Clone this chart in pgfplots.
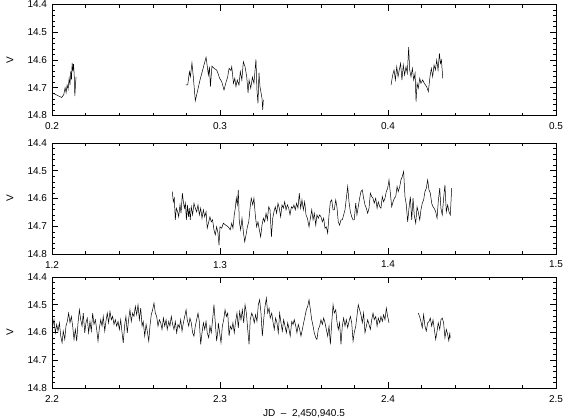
\documentclass[border=0pt]{standalone}
\usepackage{pgfplots}
\pgfplotsset{compat=1.18}
\usepackage{fontspec}
\setmainfont{Liberation Sans}

\pgfplotsset{
  lc/.style={
    scale only axis, width=504pt, height=111pt,
    anchor=north west,
    y dir=reverse, ymin=14.4, ymax=14.8,
    ytick={14.4,14.5,14.6,14.7,14.8}, minor y tick num=4,
    minor x tick num=4,
    major tick length=6pt, minor tick length=3pt,
    axis line style={line width=0.8pt},
    every tick/.style={black, line width=0.6pt},
    tick label style={font=\fontsize{10}{12}\selectfont},
    /pgf/number format/assume math mode=true,
    /pgf/number format/.cd, fixed, fixed zerofill, precision=1, /pgfplots/.cd,
    xticklabel style={yshift=-3.5pt},
    yticklabel style={xshift=-1.5pt},
    ylabel={V},
    every axis y label/.style={at={(axis description cs:0,0.5)}, xshift=-42pt, rotate=90, anchor=center, font=\fontsize{10}{12}\selectfont},
  },
  lcv/.style={black, line width=0.5pt, mark=none},
}

\begin{document}
\begin{tikzpicture}
\useasboundingbox (0,0) rectangle (565pt,-420pt);

% top panel
\begin{axis}[lc, at={(52pt,-4.5pt)}, xmin=0.2, xmax=0.5, xtick={0.2,0.3,0.4,0.5}]
\addplot[lcv] coordinates {
(0.2008,14.720) (0.2040,14.730) (0.2058,14.735) (0.2070,14.725) (0.2078,14.700)
(0.2084,14.718) (0.2090,14.690) (0.2096,14.705) (0.2102,14.665) (0.2107,14.690)
(0.2112,14.640) (0.2116,14.670) (0.2120,14.610) (0.2124,14.640) (0.2128,14.615)
(0.2132,14.650) (0.2136,14.730) (0.2140,14.685) (0.2143,14.662)
};
\addplot[lcv] coordinates {
(0.2796,14.690) (0.2808,14.690) (0.2818,14.642) (0.2824,14.660) (0.2833,14.610)
(0.2841,14.660) (0.2853,14.747) (0.2881,14.672) (0.2917,14.590) (0.2931,14.654)
(0.2937,14.624) (0.2943,14.696) (0.2952,14.622) (0.2964,14.630) (0.2980,14.636)
(0.2988,14.648) (0.2998,14.666) (0.3010,14.678) (0.3024,14.708) (0.3034,14.684)
(0.3046,14.660) (0.3054,14.630) (0.3065,14.638) (0.3070,14.624) (0.3080,14.684)
(0.3088,14.666) (0.3095,14.696) (0.3103,14.672) (0.3113,14.690) (0.3121,14.642)
(0.3130,14.672) (0.3139,14.606) (0.3149,14.624) (0.3159,14.660) (0.3167,14.718)
(0.3173,14.672) (0.3183,14.702) (0.3193,14.662) (0.3202,14.684) (0.3214,14.598)
(0.3220,14.708) (0.3226,14.756) (0.3232,14.646) (0.3238,14.696) (0.3250,14.738)
(0.3254,14.780) (0.3258,14.744)
};
\addplot[lcv] coordinates {
(0.4018,14.690) (0.4028,14.654) (0.4036,14.636) (0.4044,14.672) (0.4052,14.624)
(0.4060,14.660) (0.4067,14.636) (0.4075,14.612) (0.4083,14.672) (0.4091,14.618)
(0.4099,14.654) (0.4107,14.624) (0.4115,14.648) (0.4123,14.554) (0.4129,14.636)
(0.4137,14.660) (0.4145,14.630) (0.4153,14.672) (0.4161,14.648) (0.4167,14.750)
(0.4173,14.684) (0.4180,14.702) (0.4189,14.666) (0.4196,14.684) (0.4206,14.672)
(0.4216,14.684) (0.4230,14.696) (0.4240,14.714) (0.4250,14.660) (0.4258,14.630)
(0.4266,14.660) (0.4274,14.618) (0.4282,14.636) (0.4290,14.600) (0.4298,14.636)
(0.4306,14.576) (0.4312,14.612) (0.4318,14.600) (0.4326,14.666)
};
\end{axis}

% middle panel
\begin{axis}[lc, at={(52pt,-143pt)}, xmin=1.2, xmax=1.5, xtick={1.2,1.3,1.4,1.5}]
\addplot[lcv] coordinates {
(1.2716,14.575) (1.2722,14.612) (1.2728,14.599) (1.2734,14.677) (1.2740,14.635)
(1.2748,14.648) (1.2754,14.666) (1.2762,14.623) (1.2768,14.653) (1.2776,14.581)
(1.2782,14.612) (1.2788,14.635) (1.2794,14.617) (1.2800,14.677) (1.2806,14.623)
(1.2812,14.666) (1.2817,14.635) (1.2823,14.677) (1.2829,14.630) (1.2837,14.659)
(1.2845,14.617) (1.2853,14.635) (1.2861,14.648) (1.2869,14.623) (1.2877,14.659)
(1.2885,14.635) (1.2893,14.671) (1.2901,14.641) (1.2909,14.666) (1.2917,14.648)
(1.2924,14.707) (1.2933,14.684) (1.2940,14.666) (1.2948,14.684) (1.2956,14.677)
(1.2964,14.713) (1.2972,14.731) (1.2980,14.702) (1.2988,14.725) (1.2994,14.768)
(1.3000,14.702) (1.3010,14.707) (1.3020,14.689) (1.3034,14.696) (1.3049,14.702)
(1.3061,14.713) (1.3070,14.689) (1.3077,14.707) (1.3085,14.659) (1.3091,14.635)
(1.3097,14.599) (1.3103,14.623) (1.3109,14.569) (1.3115,14.684) (1.3123,14.713)
(1.3131,14.671) (1.3139,14.720) (1.3147,14.756) (1.3155,14.731) (1.3163,14.702)
(1.3171,14.684) (1.3179,14.635) (1.3186,14.599) (1.3195,14.623) (1.3202,14.599)
(1.3210,14.659) (1.3218,14.702) (1.3226,14.684) (1.3234,14.713) (1.3242,14.738)
(1.3250,14.696) (1.3258,14.671) (1.3266,14.684) (1.3274,14.653) (1.3282,14.677)
(1.3290,14.630) (1.3298,14.641) (1.3306,14.738) (1.3314,14.671) (1.3321,14.648)
(1.3329,14.630) (1.3337,14.653) (1.3345,14.617) (1.3353,14.635) (1.3361,14.666)
(1.3369,14.623) (1.3377,14.635) (1.3385,14.612) (1.3393,14.641) (1.3401,14.623)
(1.3409,14.635) (1.3417,14.659) (1.3425,14.630) (1.3433,14.635) (1.3440,14.623)
(1.3448,14.641) (1.3456,14.617) (1.3464,14.635) (1.3472,14.581) (1.3480,14.635)
(1.3488,14.605) (1.3496,14.641) (1.3504,14.612) (1.3512,14.659) (1.3520,14.671)
(1.3530,14.702) (1.3538,14.671) (1.3546,14.641) (1.3554,14.677) (1.3561,14.653)
(1.3570,14.696) (1.3577,14.659) (1.3585,14.671) (1.3593,14.659) (1.3601,14.666)
(1.3609,14.684) (1.3617,14.671) (1.3625,14.707) (1.3633,14.702) (1.3641,14.725)
(1.3649,14.659) (1.3657,14.612) (1.3665,14.605) (1.3673,14.641) (1.3680,14.641)
(1.3689,14.605) (1.3696,14.630) (1.3704,14.684) (1.3712,14.696) (1.3720,14.677)
(1.3728,14.677) (1.3736,14.659) (1.3744,14.641) (1.3752,14.599) (1.3760,14.557)
(1.3768,14.612) (1.3776,14.648) (1.3784,14.666) (1.3792,14.677) (1.3799,14.677)
(1.3808,14.617) (1.3815,14.659) (1.3823,14.630) (1.3831,14.599) (1.3839,14.575)
(1.3847,14.569) (1.3855,14.599) (1.3863,14.623) (1.3871,14.635) (1.3879,14.653)
(1.3887,14.635) (1.3895,14.581) (1.3903,14.593) (1.3911,14.599) (1.3918,14.617)
(1.3927,14.599) (1.3935,14.635) (1.3942,14.612) (1.3951,14.630) (1.3958,14.635)
(1.3966,14.593) (1.3974,14.612) (1.3982,14.599) (1.3990,14.575) (1.3998,14.563)
(1.4006,14.533) (1.4014,14.581) (1.4022,14.630) (1.4030,14.612) (1.4038,14.599)
(1.4046,14.593) (1.4054,14.557) (1.4061,14.575) (1.4070,14.557) (1.4077,14.533)
(1.4085,14.521) (1.4093,14.503) (1.4101,14.593) (1.4109,14.623) (1.4117,14.684)
(1.4125,14.635) (1.4133,14.593) (1.4141,14.677) (1.4149,14.599) (1.4156,14.659)
(1.4165,14.689) (1.4173,14.630) (1.4180,14.648) (1.4189,14.677) (1.4196,14.641)
(1.4204,14.617) (1.4212,14.605) (1.4220,14.575) (1.4228,14.563) (1.4236,14.533)
(1.4244,14.569) (1.4252,14.581) (1.4260,14.617) (1.4268,14.630) (1.4275,14.635)
(1.4284,14.648) (1.4292,14.671) (1.4299,14.612) (1.4308,14.563) (1.4315,14.635)
(1.4323,14.659) (1.4332,14.593) (1.4339,14.551) (1.4347,14.648) (1.4355,14.623)
(1.4363,14.648) (1.4371,14.659) (1.4379,14.563)
};
\end{axis}

% bottom panel
\begin{axis}[lc, at={(52pt,-277pt)}, xmin=2.2, xmax=2.5, xtick={2.2,2.3,2.4,2.5},
  xlabel={JD~~--~~2,450,940.5},
  xlabel style={font=\fontsize{10}{12}\selectfont, yshift=-1pt}]
\addplot[lcv] coordinates {
(2.2004,14.577) (2.2012,14.554) (2.2020,14.601) (2.2028,14.571) (2.2036,14.595)
(2.2044,14.565) (2.2052,14.613) (2.2060,14.637) (2.2067,14.595) (2.2076,14.625)
(2.2083,14.577) (2.2091,14.560) (2.2099,14.530) (2.2107,14.565) (2.2115,14.542)
(2.2123,14.577) (2.2131,14.625) (2.2139,14.589) (2.2147,14.631) (2.2155,14.565)
(2.2163,14.518) (2.2171,14.554) (2.2179,14.577) (2.2186,14.530) (2.2195,14.601)
(2.2202,14.565) (2.2210,14.548) (2.2218,14.601) (2.2226,14.560) (2.2234,14.595)
(2.2242,14.530) (2.2250,14.571) (2.2258,14.554) (2.2266,14.589) (2.2274,14.631)
(2.2282,14.583) (2.2290,14.554) (2.2298,14.577) (2.2305,14.542) (2.2314,14.595)
(2.2321,14.560) (2.2329,14.530) (2.2337,14.565) (2.2345,14.524) (2.2353,14.554)
(2.2361,14.542) (2.2369,14.571) (2.2377,14.554) (2.2385,14.577) (2.2393,14.560)
(2.2401,14.589) (2.2409,14.554) (2.2417,14.601) (2.2424,14.637) (2.2433,14.571)
(2.2440,14.542) (2.2448,14.601) (2.2456,14.554) (2.2464,14.518) (2.2472,14.560)
(2.2480,14.530) (2.2488,14.542) (2.2496,14.506) (2.2504,14.536) (2.2512,14.500)
(2.2520,14.554) (2.2528,14.512) (2.2536,14.577) (2.2543,14.560) (2.2552,14.613)
(2.2560,14.571) (2.2567,14.595) (2.2576,14.631) (2.2583,14.577) (2.2591,14.536)
(2.2599,14.518) (2.2607,14.494) (2.2615,14.530) (2.2623,14.542) (2.2631,14.577)
(2.2639,14.554) (2.2647,14.565) (2.2655,14.589) (2.2663,14.548) (2.2671,14.577)
(2.2679,14.554) (2.2686,14.589) (2.2695,14.560) (2.2702,14.577) (2.2710,14.542)
(2.2718,14.571) (2.2726,14.589) (2.2734,14.560) (2.2742,14.601) (2.2750,14.571)
(2.2758,14.583) (2.2766,14.554) (2.2774,14.595) (2.2782,14.565) (2.2790,14.542)
(2.2798,14.518) (2.2805,14.554) (2.2814,14.577) (2.2821,14.548) (2.2829,14.565)
(2.2837,14.601) (2.2845,14.613) (2.2853,14.577) (2.2861,14.554) (2.2869,14.530)
(2.2877,14.560) (2.2885,14.643) (2.2893,14.601) (2.2901,14.565) (2.2909,14.589)
(2.2917,14.560) (2.2924,14.601) (2.2933,14.619) (2.2940,14.577) (2.2948,14.601)
(2.2956,14.554) (2.2964,14.500) (2.2972,14.565) (2.2980,14.631) (2.2988,14.589)
(2.2990,14.565) (2.2998,14.601) (2.3006,14.637) (2.3014,14.577) (2.3022,14.554)
(2.3030,14.518) (2.3038,14.542) (2.3046,14.530) (2.3054,14.613) (2.3061,14.577)
(2.3070,14.589) (2.3077,14.565) (2.3085,14.601) (2.3093,14.560) (2.3101,14.530)
(2.3109,14.583) (2.3117,14.524) (2.3125,14.554) (2.3133,14.518) (2.3141,14.565)
(2.3149,14.500) (2.3157,14.530) (2.3165,14.589) (2.3173,14.643) (2.3180,14.554)
(2.3189,14.530) (2.3196,14.542) (2.3204,14.565) (2.3212,14.536) (2.3220,14.560)
(2.3228,14.500) (2.3236,14.482) (2.3244,14.530) (2.3252,14.613) (2.3260,14.554)
(2.3268,14.506) (2.3276,14.476) (2.3284,14.530) (2.3292,14.512) (2.3299,14.548)
(2.3308,14.530) (2.3315,14.560) (2.3323,14.589) (2.3331,14.548) (2.3339,14.565)
(2.3347,14.601) (2.3355,14.530) (2.3363,14.565) (2.3371,14.595) (2.3379,14.554)
(2.3387,14.577) (2.3395,14.601) (2.3403,14.565) (2.3411,14.589) (2.3418,14.613)
(2.3427,14.560) (2.3435,14.571) (2.3442,14.554) (2.3451,14.577) (2.3458,14.601)
(2.3466,14.571) (2.3474,14.589) (2.3482,14.613) (2.3490,14.589) (2.3498,14.565)
(2.3506,14.542) (2.3514,14.518) (2.3522,14.506) (2.3530,14.482) (2.3538,14.518)
(2.3546,14.554) (2.3554,14.577) (2.3561,14.601) (2.3570,14.619) (2.3577,14.625)
(2.3585,14.589) (2.3593,14.577) (2.3601,14.554) (2.3609,14.571) (2.3617,14.548)
(2.3625,14.565) (2.3633,14.589) (2.3641,14.613) (2.3649,14.577) (2.3657,14.643)
(2.3665,14.565) (2.3673,14.500) (2.3680,14.530) (2.3689,14.518) (2.3696,14.560)
(2.3704,14.589) (2.3712,14.565) (2.3720,14.643) (2.3728,14.577) (2.3736,14.548)
(2.3744,14.577) (2.3752,14.554) (2.3760,14.583) (2.3768,14.560) (2.3776,14.542)
(2.3784,14.565) (2.3792,14.631) (2.3799,14.601) (2.3808,14.577) (2.3815,14.542)
(2.3823,14.500) (2.3831,14.518) (2.3839,14.536) (2.3847,14.565) (2.3855,14.530)
(2.3863,14.601) (2.3871,14.577) (2.3879,14.554) (2.3887,14.571) (2.3895,14.589)
(2.3903,14.554) (2.3911,14.530) (2.3918,14.554) (2.3927,14.542) (2.3935,14.577)
(2.3942,14.548) (2.3951,14.565) (2.3958,14.542) (2.3966,14.560) (2.3974,14.536)
(2.3982,14.554) (2.3990,14.512) (2.3998,14.542) (2.4006,14.565)
};
\addplot[lcv] coordinates {
(2.4180,14.530) (2.4188,14.542) (2.4196,14.560) (2.4204,14.583) (2.4212,14.536)
(2.4220,14.577) (2.4228,14.595) (2.4236,14.565) (2.4244,14.560) (2.4252,14.548)
(2.4260,14.577) (2.4268,14.554) (2.4276,14.589) (2.4284,14.625) (2.4292,14.595)
(2.4299,14.565) (2.4308,14.589) (2.4315,14.554) (2.4323,14.548) (2.4331,14.565)
(2.4339,14.619) (2.4347,14.589) (2.4355,14.607) (2.4362,14.630) (2.4368,14.600)
(2.4370,14.620)
};
\end{axis}
\end{tikzpicture}
\end{document}
